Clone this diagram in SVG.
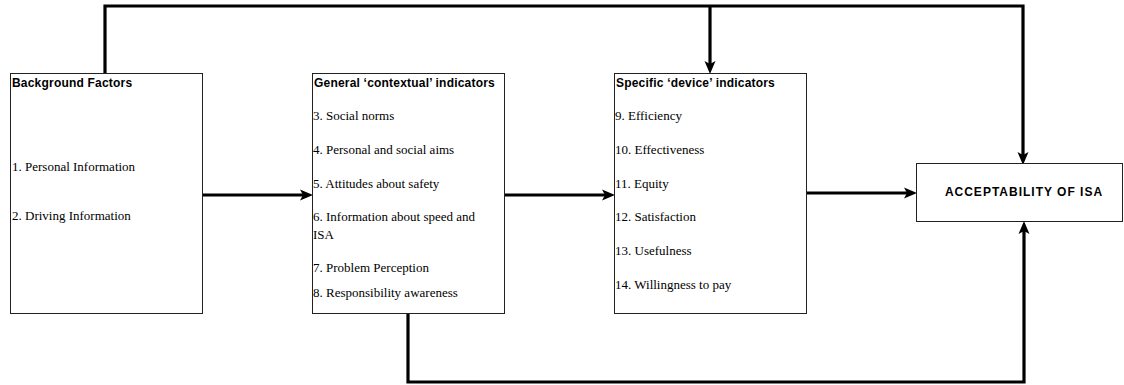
<svg xmlns="http://www.w3.org/2000/svg" width="1124" height="385" viewBox="0 0 1124 385">
<style>
.box{fill:#fff;stroke:#222;stroke-width:1}
.title{font-family:"Liberation Sans",Arial,sans-serif;font-weight:bold;font-size:12px;letter-spacing:0.2px;fill:#000}
.item{font-family:"Liberation Serif","Times New Roman",serif;font-size:13px;fill:#000}
.conn{fill:none;stroke:#000;stroke-width:3.2}
</style>
<defs>
<marker id="ah" markerUnits="userSpaceOnUse" markerWidth="13" markerHeight="12" refX="6" refY="6" orient="auto">
<path d="M0,0.5 L13,6 L0,11.5 L3,6 z" fill="#000"/>
</marker>
</defs>
<rect width="1124" height="385" fill="#fff"/>
<g id="connectors">
<path class="conn" d="M105,73 V6 H1023 V158" marker-end="url(#ah)"/>
<path class="conn" d="M710,6 V67" marker-end="url(#ah)"/>
<path class="conn" d="M202,195 H306" marker-end="url(#ah)"/>
<path class="conn" d="M504,195 H608" marker-end="url(#ah)"/>
<path class="conn" d="M806,193 H910" marker-end="url(#ah)"/>
<path class="conn" d="M408,313 V382 H1024 V228" marker-end="url(#ah)"/>
</g>
<g id="background">
<rect class="box" x="10.5" y="73.5" width="192" height="240"/>
<text class="title" x="12" y="87">Background Factors</text>
<text class="item" x="12" y="171">1. Personal Information</text>
<text class="item" x="12" y="220">2. Driving Information</text>
</g>
<g id="general">
<rect class="box" x="312.5" y="73.5" width="192" height="240"/>
<text class="title" x="314" y="87">General ‘contextual’ indicators</text>
<text class="item" x="313" y="120">3. Social norms</text>
<text class="item" x="313" y="154">4. Personal and social aims</text>
<text class="item" x="313" y="188">5. Attitudes about safety</text>
<text class="item" x="313" y="221">6. Information about speed and</text>
<text class="item" x="313" y="239">ISA</text>
<text class="item" x="313" y="272">7. Problem Perception</text>
<text class="item" x="313" y="297">8. Responsibility awareness</text>
</g>
<g id="specific">
<rect class="box" x="614.5" y="73.5" width="192" height="240"/>
<text class="title" x="616" y="87">Specific ‘device’ indicators</text>
<text class="item" x="615" y="120">9. Efficiency</text>
<text class="item" x="615" y="154">10. Effectiveness</text>
<text class="item" x="615" y="188">11. Equity</text>
<text class="item" x="615" y="221">12. Satisfaction</text>
<text class="item" x="615" y="255">13. Usefulness</text>
<text class="item" x="615" y="289">14. Willingness to pay</text>
</g>
<g id="acceptability">
<rect class="box" x="916.5" y="163.5" width="206" height="58"/>
<text class="title" x="1024" y="196" text-anchor="middle" font-size="11.5" style="letter-spacing:1px">ACCEPTABILITY OF ISA</text>
</g>
</svg>
